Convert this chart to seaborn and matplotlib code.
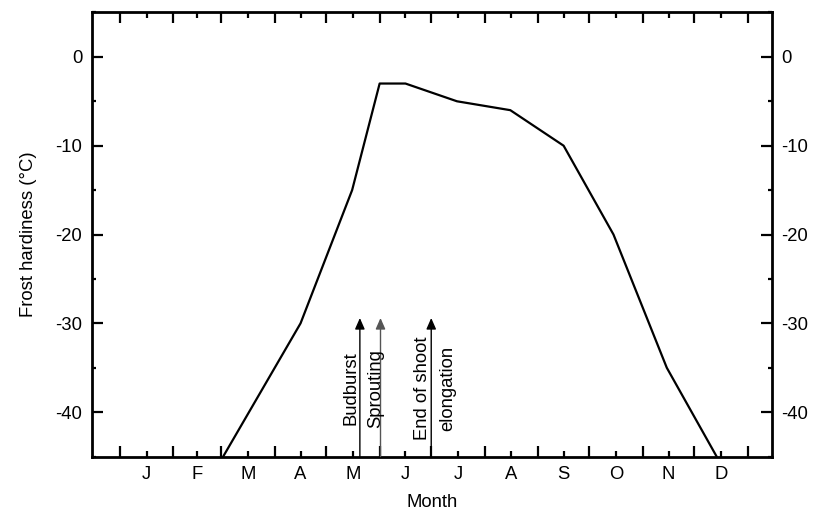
import numpy as np
import pandas as pd
import matplotlib
matplotlib.use("Agg")
import matplotlib.pyplot as plt
import seaborn as sns

# frost hardiness curve, x in day of year
days = [60, 105, 135, 151, 166, 196, 227, 258, 287, 318, 347]
hardiness = [-45, -30, -15, -3, -3, -5, -6, -10, -20, -35, -45]

month_labels = ["J", "F", "M", "A", "M", "J", "J", "A", "S", "O", "N", "D"]
month_len = [31, 28, 31, 30, 31, 30, 31, 31, 30, 31, 30, 31]

# phenology events (day of year)
event_days = [139.5, 151.5, 181]
event_colors = ["black", "#555555", "black"]
event_texts = ["Budburst", "Sprouting", "End of shoot", "elongation"]
text_days = [139, 153.5, 180.8, 195.4]

df = pd.DataFrame({"day": days, "hardiness": hardiness})

sns.set_style("ticks", {"axes.edgecolor": "black", "text.color": "black",
                        "xtick.color": "black", "ytick.color": "black",
                        "axes.labelcolor": "black"})
plt.rcParams['font.family'] = ['Liberation Sans', 'DejaVu Sans']
plt.rcParams['font.size'] = 13.3
plt.rcParams['axes.unicode_minus'] = False

fig, ax = plt.subplots(figsize=(8.14, 5.2), dpi=100)
fig.subplots_adjust(left=0.113, right=0.948, top=0.976, bottom=0.122)

sns.lineplot(data=df, x="day", y="hardiness", color="black", lw=1.6, ax=ax)

for d, c in zip(event_days, event_colors):
    ax.annotate("", xy=(d, -29.4), xytext=(d, -45),
                arrowprops=dict(arrowstyle="-|>,head_width=0.22,head_length=0.5",
                                color=c, lw=1.0, shrinkA=0, shrinkB=0))

for t, d in zip(event_texts, text_days):
    ax.text(d, -37.3, t, rotation=90, ha="right", va="center", fontsize=13.3)

bounds = np.concatenate([[0], np.cumsum(month_len)])
mids = (bounds[:-1] + bounds[1:]) / 2
ax.set_xticks(bounds)
ax.set_xticklabels([])
ax.set_xticks(mids, minor=True)
ax.set_xticklabels(month_labels, minor=True)
ax.set_xlim(-16.3, 379)

ax.set_ylim(-45, 5)
ax.set_yticks([-40, -30, -20, -10, 0])
ax.set_yticks(np.arange(-45, 6, 5), minor=True)

ax.tick_params(which="both", direction="in", top=True, right=True,
               labelright=True, width=1.6, pad=7, labelsize=13.3)
ax.tick_params(which="major", length=8)
ax.tick_params(which="minor", length=4)
ax.tick_params(axis="y", which="minor", length=3)
for s in ax.spines.values():
    s.set_linewidth(2.0)
    s.set_visible(True)

ax.set_xlabel("Month", fontsize=13.3, labelpad=8)
ax.set_ylabel("Frost hardiness (°C)", fontsize=13.3, labelpad=13)

plt.savefig("out.png", dpi=100)
